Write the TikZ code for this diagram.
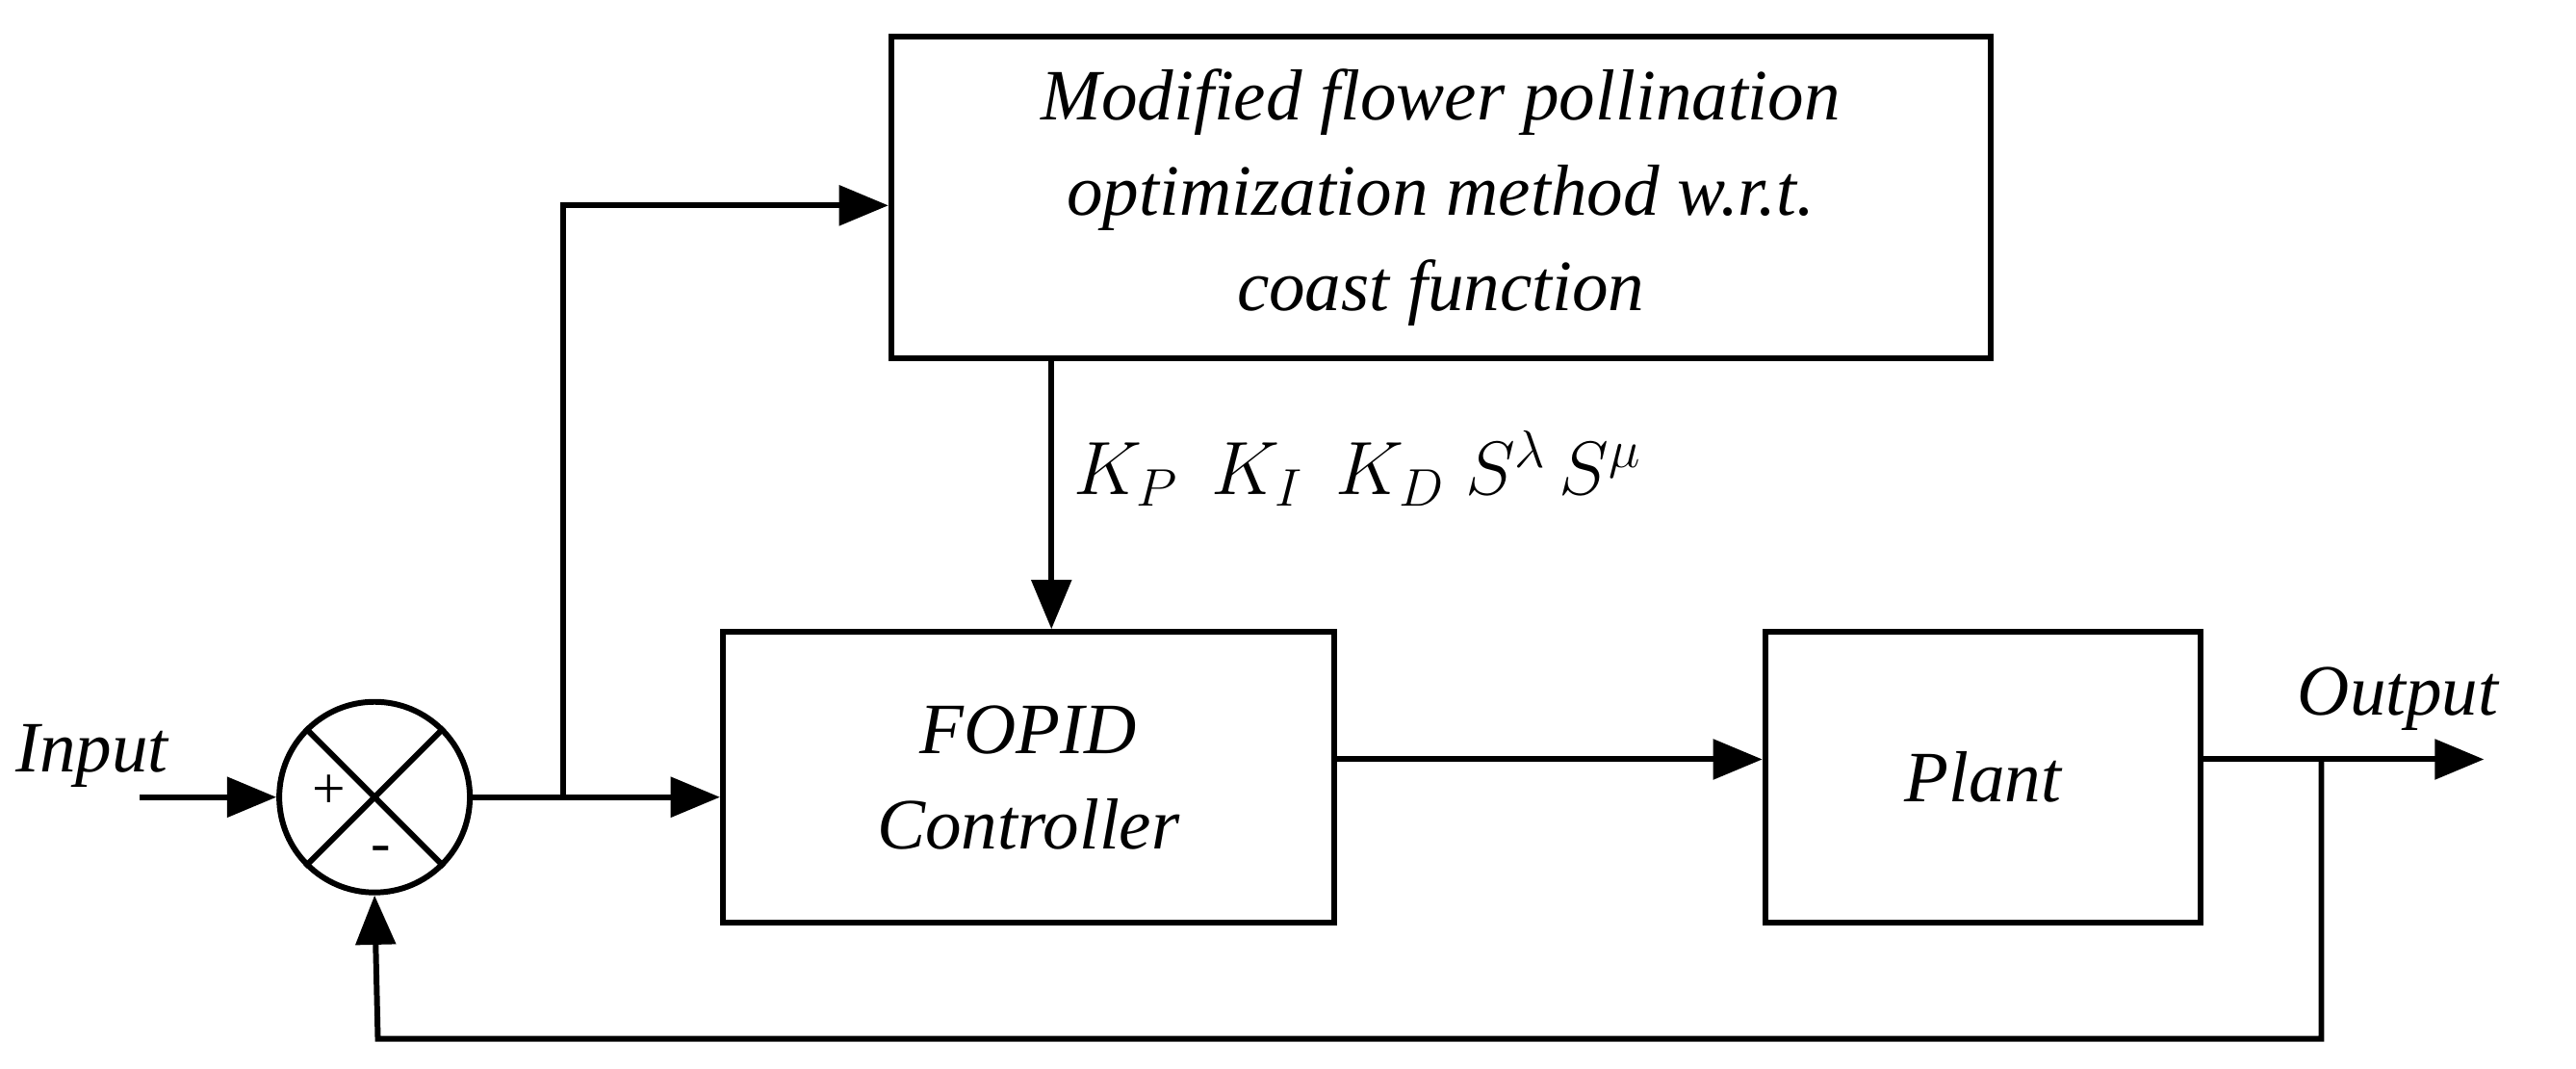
\RequirePackage{fix-cm}
\documentclass[tikz,border=0pt]{standalone}
\usepackage{fontspec}
\setmainfont{Liberation Serif}
\usetikzlibrary{arrows.meta}
\begin{document}
\begin{tikzpicture}[x=1pt,y=-1pt,
  blk/.style={draw,line width=3.5pt,inner sep=0pt},
  con/.style={line width=3.5pt,-{Triangle[length=30pt,width=24pt]}},
  ln/.style={line width=3.5pt},
  txt/.style={font=\fontsize{44}{58}\selectfont\itshape}]
\useasboundingbox (0,0) rectangle (1568,650);
\node[blk,minimum width=669pt,minimum height=196pt,txt,align=center] (opt) at (877,120) {Modified flower pollination\\optimization method w.r.t.\\coast function};
\node[blk,minimum width=372pt,minimum height=177pt,txt,align=center] (fopid) at (626,473) {FOPID\\Controller};
\node[blk,minimum width=265pt,minimum height=177pt,txt] (plant) at (1207,473) {Plant};
\node[draw,circle,line width=3.5pt,minimum size=116pt,inner sep=0pt] (sum) at (228,485) {};
\draw[ln] (sum.45) -- (sum.225) (sum.135) -- (sum.315);
\node[font=\fontsize{36}{36}\selectfont] at (200,482) {+};
\node[font=\fontsize{36}{36}\selectfont] at (232,520) {-};
\node[txt,anchor=west] (in) at (6,460) {Input};
\coordinate (ins) at (85,485);
\draw[con] (ins) -- (sum.west);
\coordinate (br) at (343,485);
\draw[con] (sum.east) -- (fopid.west |- br);
\draw[con] (br) |- (opt.west |- 0,125);
\draw[con] (opt.south -| 640,0) -- (fopid.north -| 640,0);
\node[anchor=west,font=\fontsize{46}{46}\selectfont] (k) at (650,285) {$K_P\;\,K_I\;\,K_D\;S^{\lambda}\,S^{\mu}$};
\draw[con] (fopid.east |- 0,462) -- (plant.west |- 0,462);
\coordinate (out) at (1512,462);
\coordinate (fb) at (1413,462);
\draw[con] (plant.east |- 0,462) -- (out);
\node[txt,anchor=west] (ot) at (1395,425) {Output};
\draw[con] (fb) -- (1413,632) -- (230,632) -- (sum.south);
\end{tikzpicture}
\end{document}
